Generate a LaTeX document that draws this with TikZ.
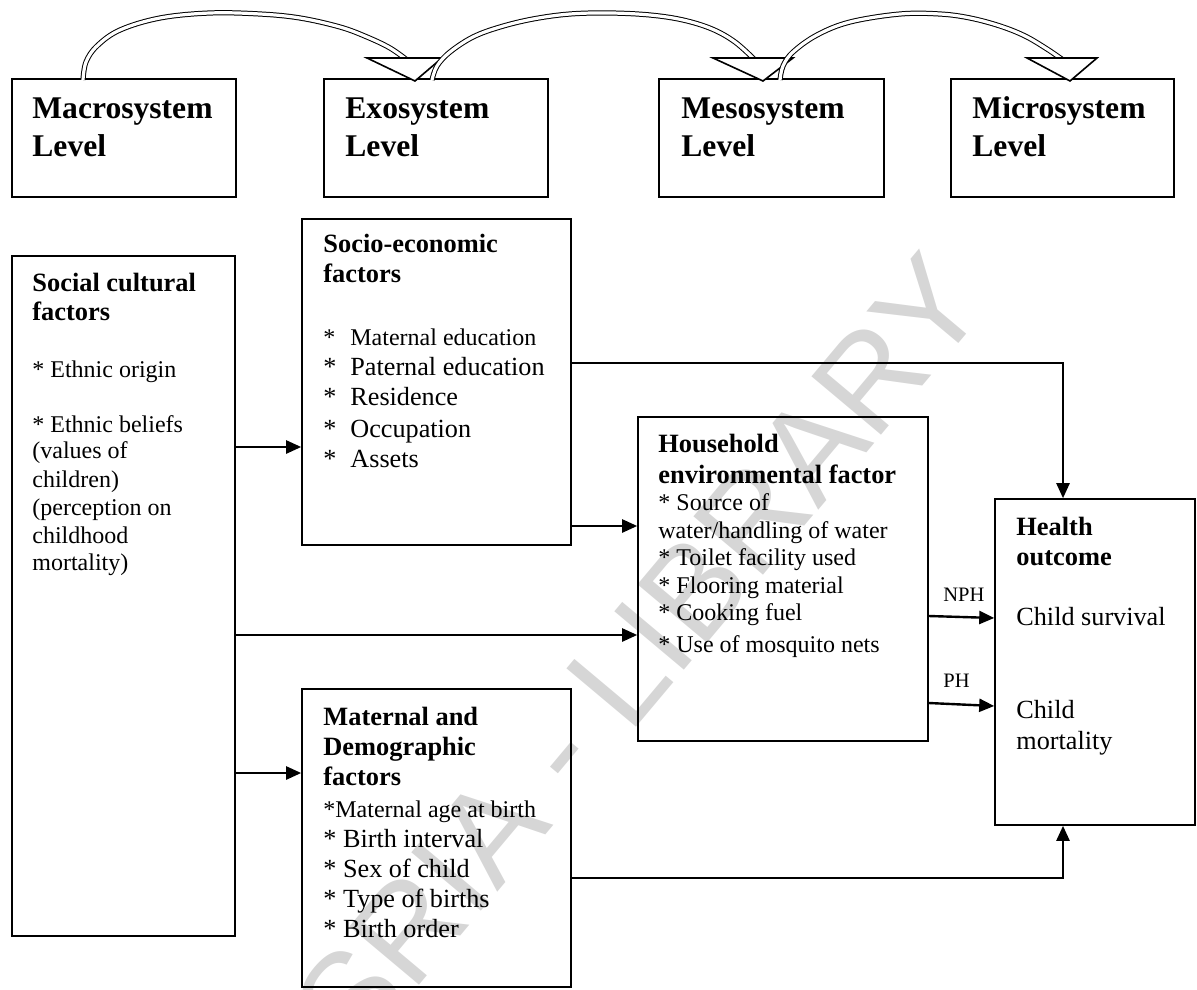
\documentclass[tikz,border=0pt]{standalone}
\usepackage{fontspec}
\setmainfont{Liberation Serif}
\newfontfamily\wmfont{Liberation Sans}
\usetikzlibrary{fit,arrows.meta}
\newcommand\fTop{\fontsize{15.8}{19}\selectfont\bfseries}
\newcommand\fHead{\fontsize{13.2}{16}\selectfont\bfseries}
\newcommand\fBody{\fontsize{12}{14}\selectfont}
\newcommand\fBig{\fontsize{13.1}{15}\selectfont}
\newcommand\fSmall{\fontsize{10.25}{12}\selectfont}
\newcommand\st{\makebox[13.5pt][l]{*}}
\begin{document}
\begin{tikzpicture}[x=0.5pt,y=-0.5pt,
  box/.style={draw,line width=0.8pt,inner sep=0pt},
  txt/.style={anchor=base west,inner sep=0pt},
  arr/.style={line width=1.2pt,-{Triangle[length=7.5pt,width=6.5pt]}},
  shaft/.style={draw,line width=0.5pt,double=white,double distance=1.6pt},
  bhead/.style={draw,fill=white,line width=0.8pt,line join=miter}]
\useasboundingbox (0,0) rectangle (1197,989);
% watermark
\begin{scope}
\clip (0,0) rectangle (1197,989);
\node[rotate=50,anchor=base,inner sep=0pt,text=black!16,font={\wmfont\fontsize{66}{76}\selectfont}] (wm) at (551,829) {CODESRIA - LIBRARY};
\end{scope}
% level boxes
\node[box,fit={(12,79) (236,197)}] (macro) {};
\node[box,fit={(324,79) (548,197)}] (exo) {};
\node[box,fit={(659,79) (884,197)}] (meso) {};
\node[box,fit={(951,79) (1174,197)}] (micro) {};
\node[txt,font=\fTop] (mac1) at (32,119) {Macrosystem};
\node[txt,font=\fTop] (mac2) at (32,157) {Level};
\node[txt,font=\fTop] (exo1) at (345,119) {Exosystem};
\node[txt,font=\fTop] (exo2) at (345,157) {Level};
\node[txt,font=\fTop] (mes1) at (681,119) {Mesosystem};
\node[txt,font=\fTop] (mes2) at (681,157) {Level};
\node[txt,font=\fTop] (mic1) at (972,119) {Microsystem};
\node[txt,font=\fTop] (mic2) at (972,157) {Level};
% curved block arrows
\draw[shaft] plot[smooth,tension=0.6] coordinates {(83,80) (86,62) (97,46) (120,30) (160,18) (210,13) (260,14) (300,18) (340,27) (367,37) (390,48) (407,60)};
\draw[bhead] (367,58) -- (442,58) -- (415,81) -- cycle;
\draw[shaft] plot[smooth,tension=0.6] coordinates {(432,80) (437,66) (450,52) (473,37) (500,27) (533,19) (570,14) (610,13) (650,15) (683,20) (712,29) (735,42) (755,60)};
\draw[bhead] (713,58) -- (793,58) -- (763,81) -- cycle;
\draw[shaft] plot[smooth,tension=0.6] coordinates {(780,80) (783,66) (793,52) (817,35) (850,22) (900,14) (940,14) (970,18) (1000,26) (1025,36) (1047,49) (1063,60)};
\draw[bhead] (1027,58) -- (1097,58) -- (1070,81) -- cycle;
% lower boxes
\node[box,fit={(12,256) (235,936)}] (social) {};
\node[box,fit={(302,219) (571,545)}] (socio) {};
\node[box,fit={(638,417) (928,741)}] (house) {};
\node[box,fit={(302,689) (571,987)}] (matern) {};
\node[box,fit={(995,499) (1195,825)}] (health) {};
% social cultural
\node[txt,font=\fHead] (sc1) at (32,292) {Social cultural};
\node[txt,font=\fHead] (sc2) at (32,321) {factors};
\node[txt,font=\fBody] (sc3) at (32,377) {* Ethnic origin};
\node[txt,font=\fBody] (sc4) at (32,432) {* Ethnic beliefs};
\node[txt,font=\fBody] (sc5) at (32,458) {(values of};
\node[txt,font=\fBody] (sc6) at (32,487) {children)};
\node[txt,font=\fBody] (sc7) at (32,515) {(perception on};
\node[txt,font=\fBody] (sc8) at (32,543) {childhood};
\node[txt,font=\fBody] (sc9) at (32,570) {mortality)};
% socio-economic
\node[txt,font=\fHead] (se1) at (323,253) {Socio-economic};
\node[txt,font=\fHead] (se2) at (323,283) {factors};
\node[txt,font=\fBody] (se3) at (323,345) {\st Maternal education};
\node[txt,font=\fBig] (se4) at (323,375) {\st Paternal education};
\node[txt,font=\fBig] (se5) at (323,405) {\st Residence};
\node[txt,font=\fBig] (se6) at (323,437) {\st Occupation};
\node[txt,font=\fBig] (se7) at (323,467) {\st Assets};
% household
\node[txt,font=\fHead] (hh1) at (658,452) {Household};
\node[txt,font=\fHead] (hh2) at (658,483) {environmental factor};
\node[txt,font=\fBody] (hh3) at (658,510) {* Source of};
\node[txt,font=\fBody] (hh4) at (658,538) {water/handling of water};
\node[txt,font=\fBody] (hh5) at (658,565) {* Toilet facility used};
\node[txt,font=\fBody] (hh6) at (658,593) {* Flooring material};
\node[txt,font=\fBody] (hh7) at (658,620) {* Cooking fuel};
\node[txt,font=\fBody] (hh8) at (658,652) {* Use of mosquito nets};
% maternal
\node[txt,font=\fHead] (md1) at (323,725) {Maternal and};
\node[txt,font=\fHead] (md2) at (323,755) {Demographic};
\node[txt,font=\fHead] (md3) at (323,785) {factors};
\node[txt,font=\fBody] (md4) at (323,817) {*Maternal age at birth};
\node[txt,font=\fBig] (md5) at (323,847) {* Birth interval};
\node[txt,font=\fBig] (md6) at (323,877) {* Sex of child};
\node[txt,font=\fBig] (md7) at (323,907) {* Type of births};
\node[txt,font=\fBig] (md8) at (323,937) {* Birth order};
% health
\node[txt,font=\fHead] (ho1) at (1016,535) {Health};
\node[txt,font=\fHead] (ho2) at (1016,565) {outcome};
\node[txt,font=\fBig] (ho3) at (1016,625) {Child survival};
\node[txt,font=\fBig] (ho4) at (1016,718) {Child};
\node[txt,font=\fBig] (ho5) at (1016,749) {mortality};
\node[txt,font=\fSmall] (nph) at (943,601) {NPH};
\node[txt,font=\fSmall] (ph) at (943,687) {PH};
% connectors
\draw[arr] (social.east |- 0,447) -- (socio.west |- 0,447);
\draw[arr] (social.east |- 0,635) -- (house.west |- 0,635);
\draw[arr] (social.east |- 0,773) -- (matern.west |- 0,773);
\draw[arr] (socio.east |- 0,526) -- (house.west |- 0,526);
\draw[arr] (socio.east |- 0,363) -| (1063,0 |- health.north);
\draw[arr] (matern.east |- 0,878) -| (1063,0 |- health.south);
\draw[arr] (house.east |- 0,616) -- (health.west |- 0,618);
\draw[arr] (house.east |- 0,703) -- (health.west |- 0,706);
\end{tikzpicture}
\end{document}
